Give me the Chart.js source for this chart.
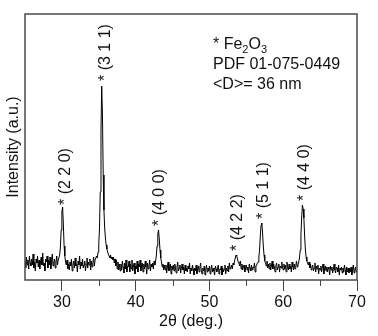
<!DOCTYPE html>
<html><head><meta charset="utf-8">
<script src="https://cdn.jsdelivr.net/npm/chart.js@4.4.1/dist/chart.umd.min.js"></script>
<style>html,body{margin:0;padding:0;background:#fff;}#wrap{width:378px;height:336px;}</style>
</head><body><div id="wrap"><canvas id="c" width="378" height="336"></canvas></div>
<script>
// ---- data ----
const twoThetaStart = 25;
const twoThetaStep = 0.1;
const intensity = [
 18,12,23,15,20,11,24,17,14,21,
 15,26,12,18,9,21,17,24,13,20,
 11,18,23,15,27,14,17,9,21,18,
 24,12,20,15,23,11,18,26,14,17,
 21,12,18,24,15,20,20,25,33,50,
 68,73,55,34,24,18,15,20,11,16,
 10,18,14,21,9,15,19,12,22,14,
 16,8,19,15,24,11,18,14,21,12,
 15,19,9,16,22,12,18,15,21,10,
 19,13,17,23,14,20,20,24,22,28,
 36,52,88,150,194,165,105,70,52,42,
 35,31,28,26,24,22,25,21,23,20,
 23,17,21,14,20,11,18,10,16,9,
 16,10,19,13,7,17,11,20,8,14,
 13,19,8,16,11,20,9,14,17,6,
 14,11,19,8,16,13,20,9,14,17,
 8,16,11,19,13,6,17,11,14,20,
 9,16,13,17,11,19,15,19,24,34,
 46,50,41,30,22,18,13,16,10,15,
 10,15,7,13,18,9,12,16,6,14,
 10,15,9,16,12,7,13,18,9,12,
 15,7,12,16,10,13,6,15,9,12,
 8,14,11,17,6,12,9,15,11,5,
 12,9,15,6,11,14,8,12,17,9,
 6,12,9,14,5,11,15,8,12,9,
 14,6,11,15,8,12,9,5,14,11,
 8,12,15,6,11,10,14,5,12,8,
 11,15,6,12,9,14,8,17,11,12,
 15,11,17,15,19,22,25,24,21,18,
 17,14,19,11,16,10,13,15,8,12,
 15,10,13,7,16,12,9,15,10,13,
 12,17,8,14,15,17,18,23,31,45,
 55,57,47,34,25,19,17,14,19,12,
 16,11,17,10,14,19,11,16,13,8,
 14,17,10,13,16,8,14,12,18,13,
 10,16,11,15,8,18,13,10,16,11,
 14,8,18,13,10,16,11,14,19,13,
 15,18,22,30,45,62,75,71,62,44,
 31,23,19,17,15,18,12,16,10,13,
 15,9,12,17,8,14,11,15,6,12,
 10,14,8,13,16,6,11,14,9,13,
 8,13,11,5,14,10,13,7,11,16,
 10,7,13,12,8,15,5,12,10,13,
 7,12,8,15,10,5,13,8,12,7,
 12,8,13,5,10,15,7,10,13,8,
 10
];
const xMin = 25, xMax = 70;
const yMin = 0, yMax = 266;
const xTickValues = [30, 40, 50, 60, 70];
const xMinorTickValues = [35, 45, 55, 65];
const peakLabels = ['* (2 2 0)', '* (3 1 1)', '* (4 0 0)', '* (4 2 2)', '* (5 1 1)', '* (4 4 0)'];
const peakLabelX = [30.46, 35.98, 43.30, 53.78, 57.30, 62.95];
const peakLabelY = [75, 199, 54, 29, 61, 79];
const legendLine1 = [['* Fe', false], ['2', true], ['O', false], ['3', true]];
const legendLine2 = 'PDF 01-075-0449';
const legendLine3 = '<D>= 36 nm';
const xTitle = '2\u03b8 (deg.)';
const yTitle = 'Intensity (a.u.)';

// ---- chart ----
const FONT = '"Liberation Sans", Arial, Helvetica, sans-serif';
const points = intensity.map((v, i) => ({ x: +(twoThetaStart + i * twoThetaStep).toFixed(2), y: v }));

const decor = {
  id: 'decor',
  afterDraw(chart) {
    const { ctx, chartArea: a, scales: { x, y } } = chart;
    ctx.save();
    // frame
    ctx.strokeStyle = '#4a4a4a';
    ctx.lineWidth = 1.5;
    ctx.strokeRect(a.left, a.top, a.right - a.left, a.bottom - a.top);
    // minor ticks
    ctx.lineWidth = 1;
    ctx.strokeStyle = '#444';
    xMinorTickValues.forEach(v => {
      const px = Math.round(x.getPixelForValue(v)) + 0.5;
      ctx.beginPath(); ctx.moveTo(px, a.bottom); ctx.lineTo(px, a.bottom + 6); ctx.stroke();
    });
    // peak labels
    ctx.fillStyle = '#111';
    ctx.font = '16px ' + FONT;
    ctx.textAlign = 'left';
    ctx.textBaseline = 'middle';
    peakLabels.forEach((t, i) => {
      ctx.save();
      ctx.translate(x.getPixelForValue(peakLabelX[i]), y.getPixelForValue(peakLabelY[i]));
      ctx.rotate(-Math.PI / 2);
      ctx.fillText(t, 0, 0);
      ctx.restore();
    });
    // legend text
    ctx.textBaseline = 'alphabetic';
    const lx = a.left + 188;
    let cx = lx;
    legendLine1.forEach(([t, sub]) => {
      ctx.font = (sub ? '11px ' : '16px ') + FONT;
      ctx.fillText(t, cx, a.top + 35 + (sub ? 4 : 0));
      cx += ctx.measureText(t).width;
    });
    ctx.font = '16px ' + FONT;
    ctx.fillText(legendLine2, lx, a.top + 55);
    ctx.fillText(legendLine3, lx, a.top + 75);
    ctx.restore();
  }
};

new Chart(document.getElementById('c'), {
  type: 'line',
  data: { datasets: [{ data: points, borderColor: '#000', borderWidth: 1, pointRadius: 0, tension: 0, fill: false }] },
  options: {
    responsive: false,
    animation: false,
    devicePixelRatio: 1,
    layout: { padding: { left: 0, top: 14, right: 21, bottom: 0 } },
    plugins: { legend: { display: false }, tooltip: { enabled: false } },
    scales: {
      x: {
        type: 'linear', min: xMin, max: xMax,
        afterBuildTicks: s => { s.ticks = xTickValues.map(v => ({ value: v })); },
        afterFit: s => { s.height = 56; },
        grid: { display: true, drawOnChartArea: false, drawTicks: true, tickLength: 11, color: '#444', lineWidth: 1 },
        border: { display: false },
        ticks: { color: '#111', font: { family: FONT, size: 16 }, padding: 2, maxRotation: 0, autoSkip: false },
        title: { display: true, text: xTitle, color: '#111', font: { family: FONT, size: 16 }, padding: { top: 0, bottom: 5 } }
      },
      y: {
        type: 'linear', min: yMin, max: yMax,
        afterFit: s => { s.width = 25; },
        grid: { display: false, drawTicks: false },
        border: { display: false },
        ticks: { display: false },
        title: { display: true, text: yTitle, color: '#111', font: { family: FONT, size: 16 }, padding: { top: 4, bottom: 0 } }
      }
    }
  },
  plugins: [decor]
});
</script></body></html>
